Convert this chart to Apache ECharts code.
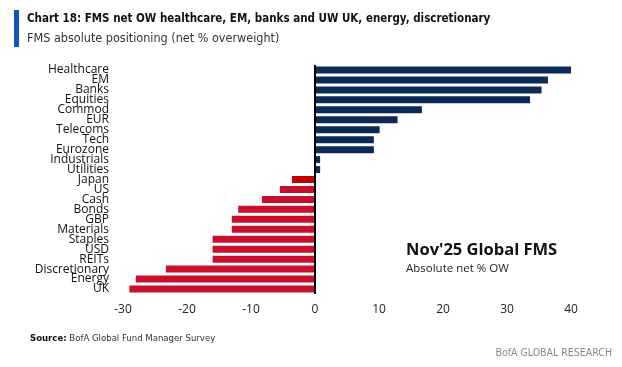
<!DOCTYPE html>
<html><head><meta charset="utf-8">
<script src="https://cdn.jsdelivr.net/npm/echarts@6/dist/echarts.min.js"></script>
<style>html,body{margin:0;padding:0;background:#fff;}#c{width:622px;height:367px;}</style>
</head><body><div id="c"></div>
<script>
const categories = ["Healthcare","EM","Banks","Equities","Commod","EUR","Telecoms","Tech","Eurozone","Industrials","Utilities","Japan","US","Cash","Bonds","GBP","Materials","Staples","USD","REITs","Discretionary","Energy","UK"];
const values = [40, 36.4, 35.4, 33.6, 16.7, 12.9, 10.1, 9.2, 9.2, 0.8, 0.8, -3.6, -5.5, -8.3, -12, -13, -13, -16, -16, -16, -23.3, -28, -29];
const tickValues = [-30, -20, -10, 0, 10, 20, 30, 40];

const NAVY = '#0c2a55', RED = '#c8102e', DARKRED = '#c00000';
const cond = '"Liberation Sans Narrow","DejaVu Sans Condensed","Open Sans",sans-serif';
const chart = echarts.init(document.getElementById('c'));
chart.setOption({
  animation: false,
  backgroundColor: '#fff',
  graphic: [
    {type:'rect', shape:{x:14,y:10,width:5,height:37}, style:{fill:'#0a55c8'}}
  ],
  title: [
    {text:'Chart 18: FMS net OW healthcare, EM, banks and UW UK, energy, discretionary', left:27, top:13, padding:0,
     textStyle:{fontFamily:cond, fontWeight:'bold', fontSize:11.5, color:'#111'}},
    {text:'FMS absolute positioning (net % overweight)', left:27, top:32, padding:0,
     textStyle:{fontFamily:cond, fontWeight:'normal', fontSize:12.5, color:'#333'}},
    {text:"Nov'25 Global FMS", left:406, top:242, padding:0,
     textStyle:{fontFamily:'"Open Sans",sans-serif', fontWeight:'bold', fontSize:16.5, color:'#111'}},
    {text:'Absolute net % OW', left:406, top:263, padding:0,
     textStyle:{fontFamily:'"Open Sans",sans-serif', fontWeight:'normal', fontSize:11.5, color:'#222'}},
    {text:'{b|Source:} BofA Global Fund Manager Survey', left:30, top:334, padding:0,
     textStyle:{fontFamily:cond, fontWeight:'normal', fontSize:9.5, color:'#333', rich:{b:{fontFamily:cond, fontWeight:'bold', fontSize:9.5, color:'#111'}}}},
    {text:'BofA GLOBAL RESEARCH', right:10, top:348, padding:0,
     textStyle:{fontFamily:cond, fontWeight:'normal', fontSize:10.5, color:'#888'}}
  ],
  grid: {left:123, right:51, top:65, bottom:73, containLabel:false},
  xAxis: {
    type:'value', min:tickValues[0], max:tickValues[tickValues.length-1], interval:10,
    axisLine:{show:false}, axisTick:{show:false}, splitLine:{show:false},
    axisLabel:{fontFamily:'"Open Sans",sans-serif', fontSize:12, color:'#222', margin:10,
      customValues: tickValues}
  },
  yAxis: {
    type:'category', data:categories, inverse:true,
    axisLine:{show:false}, axisTick:{show:false},
    axisLabel:{fontFamily:'"Open Sans",sans-serif', fontSize:12, color:'#111', margin:14, interval:0, lineHeight:10}
  },
  series: [{
    type:'bar', data: values.map((v,i)=>({value:v, itemStyle:{color: v>=0 ? NAVY : (categories[i]==='Japan' ? DARKRED : RED)}})),
    barWidth:7,
    itemStyle:{borderWidth:0},
    markLine:{silent:true, symbol:'none', label:{show:false}, lineStyle:{color:'#000', width:2, type:'solid'},
      data:[{xAxis:0}]}
  }]
});
</script></body></html>
